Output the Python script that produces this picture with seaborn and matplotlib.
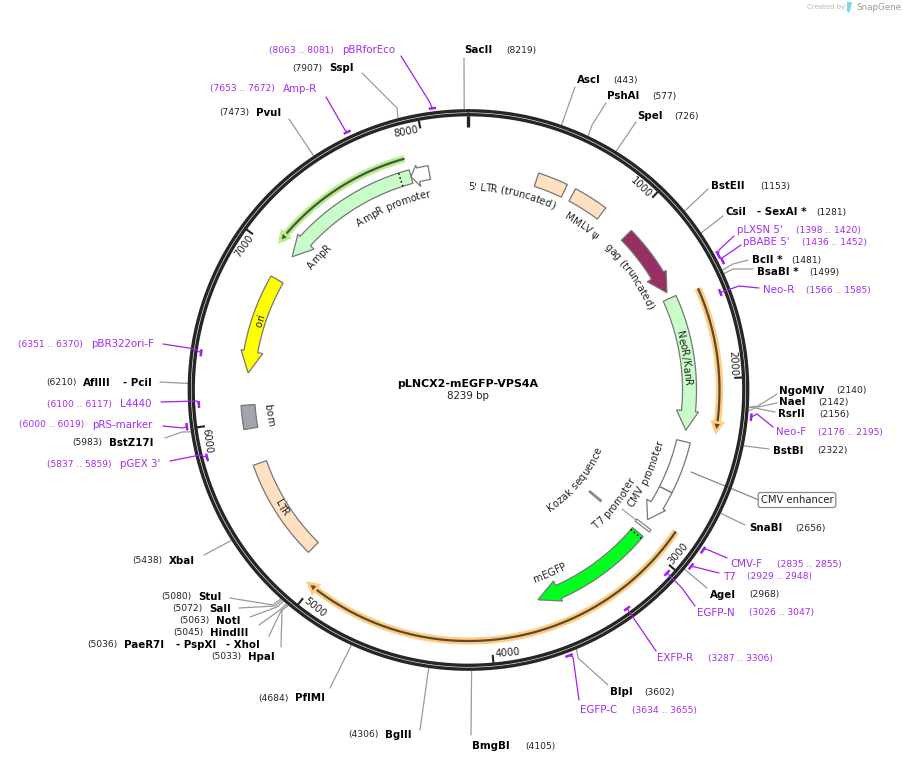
import numpy as np
import pandas as pd
import seaborn as sns
import matplotlib
matplotlib.use("Agg")
import matplotlib.pyplot as plt
from matplotlib.patches import Polygon
from matplotlib.font_manager import FontProperties
from matplotlib.textpath import TextToPath

# plasmid
title = "pLNCX2-mEGFP-VPS4A"
total_bp = 8239
tick_bp = [1000, 2000, 3000, 4000, 5000, 6000, 7000, 8000]

# features (name, start, end in bp)
arrow_names = ["gag", "NeoR/KanR", "AmpR", "ori", "mEGFP", "CMV", "AmpR promoter"]
arrow_tail = [1043, 1499, 7894, 6866, 2975, 2367, 8005]
arrow_head = [1346, 2185, 7149, 6409, 3570, 2780, 7937]
arrow_tip = [1462, 2300, 7028, 6280, 3700, 2881, 7894]
arrow_cols = ["#963064", "#c8fcc8", "#c8fcc8", "#ffff00", "#00ff1e", "#ffffff", "#ffffff"]

box_names = ["5' LTR", "MMLV psi", "bom", "LTR"]
box_start = [410, 641, 5950, 5140]
box_end = [588, 847, 6090, 5738]
box_cols = ["#ffe0c0", "#ffe0c0", "#a0a4ac", "#ffe0c0"]

# long thin arcs with a glow
glow_start = [1513, 2845, 7885]
glow_end = [2280, 5028, 7053]
glow_cols = ["#ffcc80", "#ffcc80", "#b8ee88"]
glow_dark = ["#5a4a30", "#5a4a30", "#445544"]
glow_radius = [251, 251, 240]

# sites
site_names = ["SacII", "AscI", "PshAI", "SpeI", "BstEII", "CsiI", "BclI *", "BsaBI *", "NgoMIV", "NaeI",
              "RsrII", "BstBI", "SnaBI", "AgeI", "BlpI", "BmgBI", "BglII", "PflMI", "HpaI", "PaeR7I",
              "HindIII", "NotI", "SalI", "StuI", "XbaI", "BstZ17I", "AflIII", "PvuI", "SspI"]
site_bp = [8219, 443, 577, 726, 1153, 1281, 1481, 1499, 2140, 2142,
           2156, 2322, 2656, 2968, 3602, 4105, 4306, 4684, 5033, 5036,
           5045, 5063, 5072, 5080, 5438, 5983, 6210, 7473, 7907]
site_name_x = [464, 577, 607, 637, 711, 726, 752, 757, 779, 779,
               778, 773, 749, 710, 610, 472, 385, 295, 248, 124,
               210, 216, 209, 198, 169, 109, 83, 256, 329]
site_num_x = [506, 613, 652, 674, 760, 816, 791, 809, 836, 818,
              819, 817, 795, 749, 644, 525, 348, 258, 211, 87,
              173, 179, 172, 161, 132, 72, 46, 219, 292]
site_y = [50, 80, 96, 116, 186, 212, 260, 272, 391, 402,
          414, 451, 528, 595, 692, 746, 735, 698, 657, 645,
          633, 621, 609, 597, 561, 443, 383, 113, 68]
site_lead_x = [464, 575, 606, 636, 708, 723, 748, 753, 777, 777,
               775, 769, 745, 707, 608, 471, 420, 330, 281, 269,
               259, 250, 239, 230, 204, 165, 160, 289, 362]
site_lead_y = [58, 87, 103, 122, 189, 216, 260, 269, 394, 403,
               412, 449, 525, 588, 685, 735, 730, 688, 647, 636,
               625, 617, 608, 598, 555, 438, 382, 119, 73]
site_elbow = {"PshAI": (592, 125), "BclI *": (733, 264), "BsaBI *": (733, 269), "NgoMIV": (758, 406),
              "NaeI": (758, 407), "RsrII": (755, 408), "BlpI": (578, 658), "BstZ17I": (182, 432),
              "SspI": (397, 108), "StuI": (273, 605), "SalI": (275, 606), "NotI": (277, 607),
              "HindIII": (280, 610), "PaeR7I": (281, 611), "HpaI": (282, 610)}

# extra names that share a site line
more_names = ["- SexAI *", "- PspXI", "- XhoI", "- PciI"]
more_x = [757, 176, 226, 123]
more_y = [212, 645, 645, 383]

# primers
primer_names = ["pBRforEco", "Amp-R", "pLXSN 5'", "pBABE 5'", "Neo-R", "Neo-F", "CMV-F", "T7", "EGFP-N", "EXFP-R",
                "EGFP-C", "pGEX 3'", "pRS-marker", "L4440", "pBR322ori-F"]
primer_start = [8063, 7653, 1398, 1436, 1566, 2176, 2835, 2929, 3026, 3287, 3634, 5837, 6000, 6100, 6351]
primer_end = [8081, 7672, 1420, 1452, 1585, 2195, 2855, 2948, 3047, 3306, 3655, 5859, 6019, 6117, 6370]
primer_radius = [284, 285, 284, 285, 270, 284, 284, 284, 270, 270, 284, 270, 284, 270, 270]
primer_name_x = [342, 283, 737, 743, 763, 776, 730, 723, 697, 657, 580, 120, 92, 120, 91]
primer_num_x = [269, 210, 796, 802, 806, 818, 777, 747, 749, 708, 632, 47, 19, 47, 18]
primer_y = [50, 89, 230, 242, 290, 432, 564, 577, 613, 658, 710, 464, 425, 404, 344]
primer_lead_x = [401, 326, 734, 741, 759, 773, 727, 719, 695, 656, 579, 170, 163, 161, 163]
primer_lead_y = [56, 97, 236, 245, 288, 427, 558, 573, 606, 651, 700, 461, 426, 402, 344]
primer_elbow = {"pBRforEco": (429, 101), "Amp-R": (345, 130), "pLXSN 5'": (719, 250), "pBABE 5'": (722, 258),
                "Neo-R": (739, 286), "Neo-F": (757, 414), "CMV-F": (706, 549), "T7": (695, 567),
                "EGFP-N": (682, 588), "EGFP-C": (573, 657), "pGEX 3'": (200, 455), "pRS-marker": (183, 428),
                "L4440": (197, 401), "pBR322ori-F": (195, 349)}

# names along the arcs
arc_labels = ["5' LTR (truncated)", "MMLV \u03c8", "gag (truncated)", "NeoR/KanR", "CMV promoter", "T7 promoter",
              "Kozak sequence", "mEGFP", "LTR", "bom", "ori", "AmpR", "AmpR promoter"]
arc_angle = [12.4, 34.6, 54.7, 81.6, 115.4, 128, 130, 156, 237.8, 262.9, 288.5, 311.8, 337.5]
arc_radius = [203, 200, 200, 219, 198, 186, 143, 200, 220, 201, 220, 201, 200]
arc_cw = [True, True, True, True, False, False, False, False, False, False, True, True, True]

sns.set_theme(style="white")
plt.rcParams["font.family"] = ["DejaVu Sans"]

W, H = 904, 763
CX, CY = 468.5, 390
fig = plt.figure(figsize=(W / 100, H / 100), dpi=100)
ax = fig.add_axes([0, 0, 1, 1])
ax.set_xlim(0, W)
ax.set_ylim(H, 0)
ax.axis("off")


def ang(bp):
    return np.asarray(bp) / total_bp * 2 * np.pi


def xy(bp, r):
    a = ang(bp)
    return CX + r * np.sin(a), CY - r * np.cos(a)


def arc_pts(b0, b1, r, n=80):
    return np.column_stack(xy(np.linspace(b0, b1, n), r))


# ring drawn through seaborn from a table
theta = np.linspace(0, total_bp, 721)
for r in [279.2, 275.3]:
    x, y = xy(theta, r)
    ring = pd.DataFrame({"x": x, "y": y})
    sns.lineplot(data=ring, x="x", y="y", sort=False, estimator=None, color="#262626", lw=2.4, ax=ax, zorder=3)

# ticks
x0, y0 = xy(0, 274)
x1, y1 = xy(0, 263)
ax.plot([x0, x1], [y0, y1], color="#222222", lw=2.4, solid_capstyle="butt", zorder=3)
for t in tick_bp:
    x0, y0 = xy(t, 274)
    x1, y1 = xy(t, 266)
    ax.plot([x0, x1], [y0, y1], color="#222222", lw=1.5, solid_capstyle="butt", zorder=3)
    deg = t / total_bp * 360
    tx, ty = xy(t - 3.2 / 360 * total_bp, 266)
    rot = -deg if (deg < 90 or deg > 300) else 180 - deg
    ax.text(tx, ty, str(t), fontsize=7.2, rotation=rot, rotation_mode="anchor", ha="center", va="center", color="#222222")


# arrow shaped features
def arrow_poly(tail, head, tip, ri=214, ro=228, wi=209, wo=231):
    out = arc_pts(tail, head, ro)
    inn = arc_pts(head, tail, ri)
    return np.vstack([out, [xy(head, wo)], [xy(tip, (ri + ro) / 2)], [xy(head, wi)], inn])


for name, a, b, c, col in zip(arrow_names, arrow_tail, arrow_head, arrow_tip, arrow_cols):
    ax.add_patch(Polygon(arrow_poly(a, b, c), closed=True, fc=col, ec="#777777", lw=0.9, zorder=4))

# box features
for name, a, b, col in zip(box_names, box_start, box_end, box_cols):
    pts = np.vstack([arc_pts(a, b, 228), arc_pts(b, a, 214)])
    ax.add_patch(Polygon(pts, closed=True, fc=col, ec="#777777", lw=0.9, zorder=4))

# tiny radial T7 promoter and Kozak marks
pts = np.vstack([arc_pts(2917, 2933, 230), arc_pts(2933, 2917, 212)])
ax.add_patch(Polygon(pts, closed=True, fc="white", ec="#777777", lw=0.8, zorder=4))
x0, y0 = xy(2925, 212)
ax.plot([x0, 622], [y0, 509], color="#999999", lw=0.8, zorder=3)
pts = np.vstack([arc_pts(2968, 2980, 173), arc_pts(2980, 2968, 158)])
ax.add_patch(Polygon(pts, closed=True, fc="#cccccc", ec="#777777", lw=0.8, zorder=4))

# dividers in features
for bp, r0, r1, col, ls in [(7830, 214, 228, "black", ":"), (2673, 214, 228, "#777777", "-"), (2990, 214, 228, "black", ":")]:
    xa, ya = xy(bp, r0)
    xb, yb = xy(bp, r1)
    ax.plot([xa, xb], [ya, yb], color=col, lw=1.1, ls=ls, zorder=5)

# glow arcs
for a, b, col, dark, r in zip(glow_start, glow_end, glow_cols, glow_dark, glow_radius):
    step = 1 if b > a else -1
    p = arc_pts(a, b - step * 15, r)
    ax.plot(p[:, 0], p[:, 1], color=col, lw=5.2, solid_capstyle="butt", zorder=2)
    p2 = arc_pts(a, b - step * 30, r)
    ax.plot(p2[:, 0], p2[:, 1], color=dark, lw=1.6, solid_capstyle="butt", zorder=3)
    ah = np.array([xy(b - step * 50, r + 5), xy(b, r), xy(b - step * 50, r - 5)])
    ax.add_patch(Polygon(ah, closed=True, fc=dark, ec=col, lw=2.0, zorder=3))

# sites
for n, bp, nx, ux, ty, lx, ly in zip(site_names, site_bp, site_name_x, site_num_x, site_y, site_lead_x, site_lead_y):
    x0, y0 = xy(bp, 281)
    path = [(x0, y0)]
    if n in site_elbow:
        path.append(site_elbow[n])
    path.append((lx, ly))
    ax.plot([p[0] for p in path], [p[1] for p in path], color="#9a9a9a", lw=0.9, zorder=1)
    ax.text(nx, ty, n, fontsize=7.4, fontweight="bold", ha="left", va="center", color="black")
    ax.text(ux, ty, f"({bp})", fontsize=6.6, ha="left", va="center", color="#222222")
for n, nx, ty in zip(more_names, more_x, more_y):
    ax.text(nx, ty, n, fontsize=7.4, fontweight="bold", ha="left", va="center", color="black")

# primers
for n, a, b, r, nx, ux, ty, lx, ly in zip(primer_names, primer_start, primer_end, primer_radius,
                                           primer_name_x, primer_num_x, primer_y, primer_lead_x, primer_lead_y):
    p = arc_pts(a - 8, b + 8, r, n=5)
    ax.plot(p[:, 0], p[:, 1], color="#a020f0", lw=1.8, solid_capstyle="butt", zorder=5)
    x0, y0 = xy((a + b) / 2, r)
    path = [(x0, y0)]
    if n in primer_elbow:
        path.append(primer_elbow[n])
    path.append((lx, ly))
    ax.plot([q[0] for q in path], [q[1] for q in path], color="#a020f0", lw=0.9, zorder=5)
    ax.text(nx, ty, n, fontsize=7.4, ha="left", va="center", color="#a52bf0")
    ax.text(ux, ty, f"({a} .. {b})", fontsize=6.6, ha="left", va="center", color="#a52bf0")

# labels curved along the map
prop = FontProperties(family="DejaVu Sans", size=7.2)
ttp = TextToPath()


def width_px(s):
    w, _, _ = ttp.get_text_width_height_descent(s, prop, ismath=False)
    return w * 100 / 72


def advance(s):
    # ink width of a string misses side bearings, so measure against a stop letter
    return width_px(s + "x") - width_px("x")


for s, deg, r, cw in zip(arc_labels, arc_angle, arc_radius, arc_cw):
    full = advance(s)
    sign = 1 if cw else -1
    # baseline sits half a letter off the radius
    rb = r - 3.5 if cw else r + 3.5
    for i, ch in enumerate(s):
        if ch == " ":
            continue
        offs = (advance(s[:i]) + advance(s[:i + 1])) / 2 - full / 2
        a = deg + sign * np.degrees(offs / r)
        tx = CX + rb * np.sin(np.radians(a))
        ty = CY - rb * np.cos(np.radians(a))
        rot = -a if cw else 180 - a
        ax.text(tx, ty, ch, fontproperties=prop, rotation=rot, rotation_mode="anchor", ha="center", va="baseline",
                color="#222222", zorder=6)

# CMV enhancer tag
ax.plot([691, 759], [472, 500], color="#888888", lw=0.9, zorder=1)
ax.text(797, 500, "CMV enhancer", fontsize=7.2, ha="center", va="center", color="#222222",
        bbox=dict(boxstyle="round,pad=0.25", fc="white", ec="#888888", lw=0.9))

# centre title
ax.text(468, 384, title, fontsize=7.9, fontweight="bold", ha="center", va="center", color="black")
ax.text(468, 396, f"{total_bp} bp", fontsize=7.4, ha="center", va="center", color="#222222")

# watermark
ax.text(807, 7, "Created by", fontsize=5, ha="left", va="center", color="#b8b8b8")
ax.text(856, 7, "SnapGene", fontsize=6.3, ha="left", va="center", color="#9a9a9a")
ax.add_patch(Polygon([(847, 2), (852, 2), (851, 8), (849, 13), (847, 11)], closed=True, fc="#7fd4ea", ec="none"))

fig.savefig("out.png", dpi=100)
